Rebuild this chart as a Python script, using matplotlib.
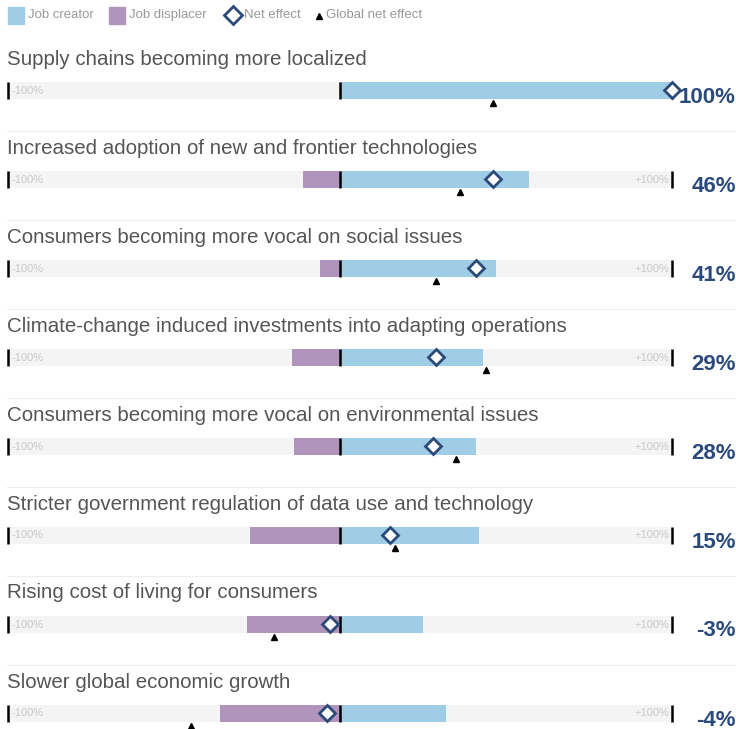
import matplotlib.pyplot as plt
from matplotlib.patches import Rectangle
from matplotlib.lines import Line2D

# data (percent)
labels = [
    "Supply chains becoming more localized",
    "Increased adoption of new and frontier technologies",
    "Consumers becoming more vocal on social issues",
    "Climate-change induced investments into adapting operations",
    "Consumers becoming more vocal on environmental issues",
    "Stricter government regulation of data use and technology",
    "Rising cost of living for consumers",
    "Slower global economic growth",
]
creator = [100, 57, 47, 43, 41, 42, 25, 32]
displacer = [0, -11, -6, -14.5, -14, -27, -28, -36]
net = [100, 46, 41, 29, 28, 15, -3, -4]
global_net = [46, 36, 29, 44, 35, 16.5, -20, -45]

blue = "#a0cde6"
purple = "#b094bb"
navy = "#2b4a7a"
grey_txt = "#555555"

W, H = 736, 729
fig = plt.figure(figsize=(W / 100, H / 100), dpi=100)
ax = fig.add_axes([0, 0, 1, 1])
# 0% sits at pixel 340, 100% spans 332 px
ax.set_xlim((0 - 340) / 3.32, (W - 340) / 3.32)
ax.set_ylim(H, 0)
ax.axis("off")

plt.rcParams["font.family"] = ["Liberation Sans", "DejaVu Sans"]

row_h = 89
for i, lab in enumerate(labels):
    yc = 90 + row_h * i
    # title
    ax.text(-100.3, yc - 31, lab, fontsize=14.8, color=grey_txt,
            va="center", ha="left")
    # separator above rows 2..8
    if i > 0:
        ax.plot([-100.3, 119.3], [yc - 48, yc - 48], color="#eeeeee", lw=0.8)
    # background track
    ax.barh(yc, 200, left=-100, height=17, color="#f4f4f4", zorder=1)
    ax.text(-98.9, yc + 0.5, "-100%", fontsize=8, color="#c8c8c8",
            va="center", ha="left", zorder=2)
    ax.text(99.2, yc + 0.5, "+100%", fontsize=8, color="#c8c8c8",
            va="center", ha="right", zorder=2)
    # bars
    ax.barh(yc, creator[i], left=0, height=17, color=blue, zorder=3)
    ax.barh(yc, displacer[i], left=0, height=17, color=purple, zorder=3)
    # ticks at -100, 0, +100
    for xv in (-100, 0, 100):
        ax.plot([xv, xv], [yc - 8.5, yc + 8.5], color="black", lw=1.8,
                zorder=4, solid_capstyle="butt")
    # net effect diamond and global triangle
    ax.plot(net[i], yc, marker="D", ms=8, mfc="white", mec=navy,
            mew=2, zorder=5)
    ax.plot(global_net[i], yc + 13, marker="^", ms=5, color="black",
            zorder=5)
    # value label
    ax.text(119.2, yc + 7, "%d%%" % net[i], fontsize=16, color=navy,
            fontweight="bold", va="center", ha="right")

# legend at top
def fx(px):
    return px / W

def fy(py):
    return 1 - py / H

fig.patches.append(Rectangle((fx(8), fy(24)), 16 / W, 17 / H,
                             transform=fig.transFigure, color=blue))
fig.text(fx(28), fy(15), "Job creator", fontsize=9.5, color="#999999",
         va="center")
fig.patches.append(Rectangle((fx(109), fy(24)), 16 / W, 17 / H,
                             transform=fig.transFigure, color=purple))
fig.text(fx(129), fy(15), "Job displacer", fontsize=9.5, color="#999999",
         va="center")
fig.lines.append(Line2D([fx(233)], [fy(15)], marker="D", ms=9,
                        mfc="white", mec=navy, mew=2,
                        transform=fig.transFigure))
fig.text(fx(244), fy(15), "Net effect", fontsize=9.5, color="#999999",
         va="center")
fig.lines.append(Line2D([fx(319)], [fy(16)], marker="^", ms=4,
                        color="black", transform=fig.transFigure))
fig.text(fx(326), fy(15), "Global net effect", fontsize=9.5, color="#999999",
         va="center")

fig.savefig("out.png", dpi=100)
